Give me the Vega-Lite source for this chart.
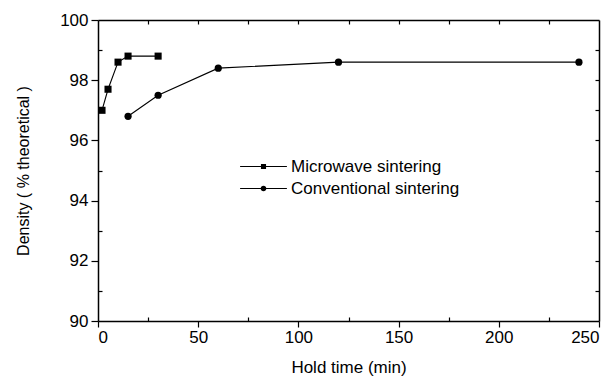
{
  "$schema": "https://vega.github.io/schema/vega-lite/v6.json",
  "width": 501,
  "height": 301,
  "autosize": "none",
  "padding": {"left": 98, "top": 20, "right": 15, "bottom": 56},
  "background": "white",
  "config": {
    "view": {"stroke": null},
    "font": "Liberation Sans",
    "axis": {
      "domainColor": "black", "tickColor": "black", "labelColor": "black", "titleColor": "black",
      "grid": false, "domainWidth": 1.5, "tickWidth": 1.2,
      "labelFont": "Liberation Sans", "titleFont": "Liberation Sans",
      "labelFontSize": 17, "titleFontSize": 17, "titleFontWeight": "normal"
    }
  },
  "data": {"values": [
    {"series": "Microwave sintering", "t": 2, "d": 97.0},
    {"series": "Microwave sintering", "t": 5, "d": 97.7},
    {"series": "Microwave sintering", "t": 10, "d": 98.6},
    {"series": "Microwave sintering", "t": 15, "d": 98.8},
    {"series": "Microwave sintering", "t": 30, "d": 98.8},
    {"series": "Conventional sintering", "t": 15, "d": 96.8},
    {"series": "Conventional sintering", "t": 30, "d": 97.5},
    {"series": "Conventional sintering", "t": 60, "d": 98.4},
    {"series": "Conventional sintering", "t": 120, "d": 98.6},
    {"series": "Conventional sintering", "t": 240, "d": 98.6}
  ]},
  "layer": [
    {
      "mark": {"type": "line", "color": "black", "strokeWidth": 1.1},
      "encoding": {
        "x": {"field": "t", "type": "quantitative", "scale": {"domain": [0, 250], "nice": false},
          "axis": {"orient": "bottom", "values": [0, 25, 50, 75, 100, 125, 150, 175, 200, 225, 250],
            "labelExpr": "datum.value % 50 === 0 ? datum.label : ''",
            "tickSize": {"condition": {"test": "datum.value % 50 === 0", "value": 6}, "value": -4},
            "labelPadding": 2, "title": "Hold time (min)", "titlePadding": 14}},
        "y": {"field": "d", "type": "quantitative", "scale": {"domain": [90, 100], "nice": false, "zero": false},
          "axis": {"orient": "left", "values": [90, 91, 92, 93, 94, 95, 96, 97, 98, 99, 100],
            "labelExpr": "datum.value % 2 === 0 ? datum.label : ''",
            "tickSize": {"condition": {"test": "datum.value % 2 === 0", "value": 7}, "value": -4},
            "labelPadding": 3, "title": "Density ( % theoretical )", "titleFontSize": 16, "titlePadding": 28}},
        "detail": {"field": "series"}
      }
    },
    {
      "transform": [{"filter": "datum.series === 'Microwave sintering'"}],
      "mark": {"type": "point", "shape": "square", "filled": true, "opacity": 1, "size": 50},
      "encoding": {
        "x": {"field": "t", "type": "quantitative", "scale": {"domain": [0, 250], "nice": false},
          "axis": {"orient": "top", "values": [25, 50, 75, 100, 125, 150, 175, 200, 225], "labels": false, "title": null, "tickSize": -4, "domain": true}},
        "y": {"field": "d", "type": "quantitative", "scale": {"domain": [90, 100], "nice": false, "zero": false},
          "axis": {"orient": "right", "values": [91, 92, 93, 94, 95, 96, 97, 98, 99], "labels": false, "title": null, "tickSize": -4}},
        "color": {"field": "series", "type": "nominal",
          "scale": {"domain": ["Microwave sintering"], "range": ["black"]},
          "legend": {
            "orient": "none", "legendX": 157, "legendY": 138, "title": null, "padding": 0,
            "symbolSize": 36, "labelOffset": 19,
            "symbolType": "M-7.8,-0.2H7.8V0.2H-7.8Z M-0.85,-0.85H0.85V0.85H-0.85Z",
            "labelFont": "Liberation Sans", "labelFontSize": 17, "labelColor": "black", "labelLimit": 300,
            "symbolOpacity": 1
          }}
      }
    },
    {
      "transform": [{"filter": "datum.series === 'Conventional sintering'"}],
      "mark": {"type": "point", "shape": "circle", "filled": true, "opacity": 1, "size": 52},
      "encoding": {
        "x": {"field": "t", "type": "quantitative", "scale": {"domain": [0, 250], "nice": false}, "axis": null},
        "y": {"field": "d", "type": "quantitative", "scale": {"domain": [90, 100], "nice": false, "zero": false}, "axis": null},
        "color": {"field": "series", "type": "nominal",
          "scale": {"domain": ["Conventional sintering"], "range": ["black"]},
          "legend": {
            "orient": "none", "legendX": 157, "legendY": 160, "title": null, "padding": 0,
            "symbolSize": 36, "labelOffset": 19,
            "symbolType": "M-7.8,-0.2H7.8V0.2H-7.8Z M0.95,0A0.95,0.95,0,1,1,-0.95,0A0.95,0.95,0,1,1,0.95,0Z",
            "labelFont": "Liberation Sans", "labelFontSize": 17, "labelColor": "black", "labelLimit": 300,
            "symbolOpacity": 1
          }}
      }
    }
  ],
  "resolve": {"axis": {"x": "independent", "y": "independent"}, "scale": {"color": "independent"}, "legend": {"color": "independent"}}
}
